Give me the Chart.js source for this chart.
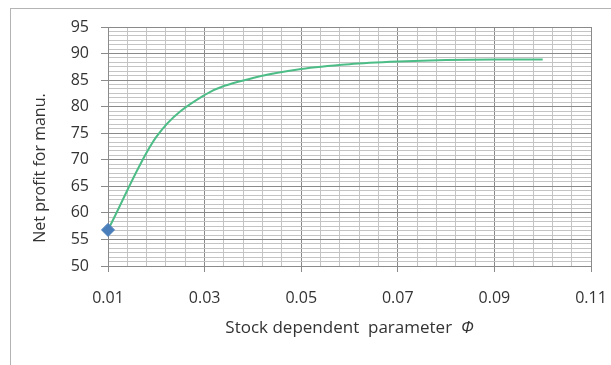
<!DOCTYPE html>
<html>
<head>
<meta charset="utf-8">
<script src="https://cdn.jsdelivr.net/npm/chart.js@4/dist/chart.umd.min.js"></script>
<style>
  html, body { margin: 0; padding: 0; background: #ffffff; overflow: hidden; }
  #wrap { position: relative; width: 611px; height: 365px; overflow: hidden; }
  #frame { position: absolute; left: 10px; top: 8px; width: 640px; height: 400px; border: 1px solid #b4b4b4; box-sizing: border-box; }
  canvas { position: absolute; left: 0; top: 0; }
</style>
</head>
<body>
<div id="wrap">
  <div id="frame"></div>
  <canvas id="chart" width="611" height="365"></canvas>
</div>
<script>
// Stock dependent parameter (phi) and net profit for the manufacturer
const phiValues = [0.01, 0.02, 0.03, 0.04, 0.05, 0.06, 0.07, 0.08, 0.09, 0.10];
const netProfit = [56.8, 74.3, 82.2, 85.4, 87.1, 88.0, 88.5, 88.8, 88.9, 88.9];

// Axis ticks
const xTickLabels = ['0.01', '0.03', '0.05', '0.07', '0.09', '0.11'];
const yTickLabels = [50, 55, 60, 65, 70, 75, 80, 85, 90, 95];
const xMinorPerMajor = 5;
const yMinorPerMajor = 6;

const xTitle = 'Stock dependent  parameter  ';
const xTitleSymbol = 'Φ';
const yTitle = 'Net profit for manu.';

const FONT = '"Open Sans", "Noto Sans", sans-serif';
const TEXT = '#333333';

function minorTicks(labels, perMajor) {
  const vals = labels.map(Number);
  const out = [];
  for (let i = 0; i < vals.length - 1; i++) {
    const step = (vals[i + 1] - vals[i]) / perMajor;
    for (let j = 0; j < perMajor; j++) out.push({ value: vals[i] + j * step });
  }
  out.push({ value: vals[vals.length - 1] });
  return out;
}

const axisTitles = {
  id: 'axisTitles',
  afterDraw(chart) {
    const { ctx, chartArea } = chart;
    ctx.save();
    ctx.fillStyle = TEXT;
    ctx.textBaseline = 'middle';
    // x title, centred under the plot
    ctx.font = '17px ' + FONT;
    const w1 = ctx.measureText(xTitle).width;
    ctx.font = 'italic 17px ' + FONT;
    const w2 = ctx.measureText(xTitleSymbol).width;
    const cx = (chartArea.left + chartArea.right) / 2;
    const x0 = cx - (w1 + w2) / 2;
    ctx.textAlign = 'left';
    ctx.font = '17px ' + FONT;
    ctx.fillText(xTitle, x0, chartArea.bottom + 62);
    ctx.font = 'italic 17px ' + FONT;
    ctx.fillText(xTitleSymbol, x0 + w1, chartArea.bottom + 62);
    // y title, rotated
    ctx.translate(chartArea.left - 68, chartArea.top + 141);
    ctx.rotate(-Math.PI / 2);
    ctx.textAlign = 'center';
    ctx.font = '16px ' + FONT;
    ctx.fillText(yTitle, 0, 0);
    ctx.restore();
  }
};

new Chart(document.getElementById('chart'), {
  type: 'line',
  data: {
    datasets: [{
      data: phiValues.map((x, i) => ({ x: x, y: netProfit[i] })),
      borderColor: '#4dbd87',
      borderWidth: 2,
      cubicInterpolationMode: 'monotone',
      pointStyle: 'rectRot',
      pointRadius: netProfit.map((v, i) => i === 0 ? 6.5 : 0),
      pointHoverRadius: 0,
      pointBackgroundColor: '#4a7ebb',
      pointBorderColor: '#4a7ebb',
      pointBorderWidth: 1,
      clip: false
    }]
  },
  plugins: [axisTitles],
  options: {
    responsive: false,
    animation: false,
    events: [],
    layout: { padding: { left: 0, top: 27, right: 20, bottom: 0 } },
    plugins: { legend: { display: false }, tooltip: { enabled: false } },
    scales: {
      x: {
        type: 'linear',
        min: 0.01,
        max: 0.11,
        afterBuildTicks: s => { s.ticks = minorTicks(xTickLabels, xMinorPerMajor); },
        afterFit: s => { s.height = 99; s.paddingLeft = 0; s.paddingRight = 0; },
        border: { color: '#8a8a8a', width: 1 },
        grid: {
          color: c => c.index % xMinorPerMajor === 0 ? '#8a8a8a' : '#c4c4c4',
          tickColor: c => c.index % xMinorPerMajor === 0 ? '#8a8a8a' : 'rgba(0,0,0,0)',
          tickLength: 6,
          lineWidth: 1
        },
        ticks: {
          autoSkip: false,
          maxRotation: 0,
          padding: 17,
          color: TEXT,
          font: { family: FONT, size: 16 },
          callback: (v, i) => i % xMinorPerMajor === 0 ? xTickLabels[i / xMinorPerMajor] : ''
        }
      },
      y: {
        type: 'linear',
        min: 50,
        max: 95,
        afterBuildTicks: s => { s.ticks = minorTicks(yTickLabels, yMinorPerMajor); },
        afterFit: s => { s.width = 108; s.paddingTop = 0; s.paddingBottom = 0; },
        border: { color: '#8a8a8a', width: 1 },
        grid: {
          color: c => c.index % yMinorPerMajor === 0 ? '#8a8a8a' : '#c4c4c4',
          tickColor: c => c.index % yMinorPerMajor === 0 ? '#8a8a8a' : 'rgba(0,0,0,0)',
          tickLength: 7,
          lineWidth: 1
        },
        ticks: {
          autoSkip: false,
          padding: 12,
          color: TEXT,
          font: { family: FONT, size: 16 },
          callback: (v, i) => i % yMinorPerMajor === 0 ? String(yTickLabels[i / yMinorPerMajor]) : ''
        }
      }
    }
  }
});
</script>
</body>
</html>
